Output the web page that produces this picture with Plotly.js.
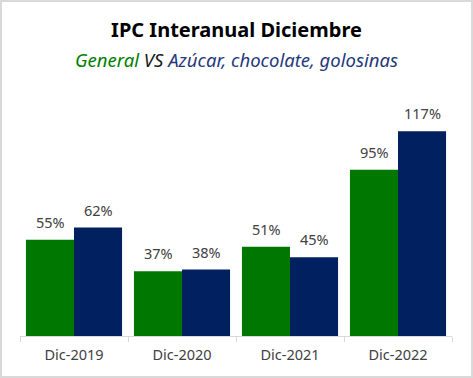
<!DOCTYPE html>
<html>
<head>
<meta charset="utf-8">
<script src="https://cdn.plot.ly/plotly-3.0.1.min.js"></script>
<style>
html,body{margin:0;padding:0;background:#fff;}
#wrap{width:473px;height:378px;box-sizing:border-box;border:2px solid #d9d9d9;background:#fff;}
#chart{width:469px;height:374px;}
</style>
</head>
<body>
<div id="wrap"><div id="chart"></div></div>
<script>
const categories = ["Dic-2019", "Dic-2020", "Dic-2021", "Dic-2022"];
const general = [55, 37, 51, 95];
const azucar = [62, 38, 45, 117];
const seriesNames = ["General", "Azúcar, chocolate, golosinas"];

const font = "Noto Sans, Open Sans, sans-serif";
const pct = v => v + "%";

const traces = [
  {type: "bar", name: seriesNames[0], x: categories, y: general,
   marker: {color: "#007800"}, hoverinfo: "none"},
  {type: "bar", name: seriesNames[1], x: categories, y: azucar,
   marker: {color: "#002060"}, hoverinfo: "none"}
];

const labelAnn = (vals, shift) => vals.map((v, i) => ({
  x: categories[i], y: v, xref: "x", yref: "y", text: pct(v),
  xshift: shift, yshift: 6, yanchor: "bottom", xanchor: "center", showarrow: false,
  font: {size: 14.5, color: "#404040", family: font}
}));

const layout = {
  width: 469, height: 374,
  margin: {l: 18, r: 19, t: 89, b: 40},
  paper_bgcolor: "#fff", plot_bgcolor: "#fff",
  font: {family: font, color: "#404040"},
  showlegend: false,
  barmode: "group", bargap: 0.11, bargroupgap: 0,
  title: {text: "<b>IPC Interanual Diciembre</b>", font: {size: 20, color: "#000", family: font},
          x: 0.5, xanchor: "center", y: 0.925, yanchor: "middle", yref: "container"},
  annotations: [{
    text: "<i><span style='color:#008000'>General</span> <span style='color:#1a1a1a'>VS</span> <span style='color:#1f3a7a'>Azúcar, chocolate, golosinas</span></i>",
    xref: "paper", yref: "paper", x: 0.5, y: 1.127, xanchor: "center", yanchor: "middle",
    showarrow: false, font: {size: 18.5, family: font}
  }].concat(labelAnn(general, -24), labelAnn(azucar, 24)),
  xaxis: {type: "category", showline: true, linecolor: "#d9d9d9", linewidth: 1,
          ticks: "outside", tickson: "boundaries", ticklen: 5, tickcolor: "#d9d9d9",
          ticklabelstandoff: 6,
          tickfont: {size: 14.5, color: "#404040", family: font}, showgrid: false, fixedrange: true},
  yaxis: {visible: false, range: [0, 140], showgrid: false, zeroline: false, fixedrange: true}
};

Plotly.newPlot("chart", traces, layout, {displayModeBar: false, staticPlot: true});
</script>
</body>
</html>
